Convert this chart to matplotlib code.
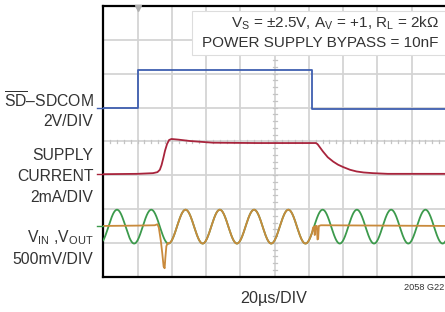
"""Scope capture: shutdown pin, supply current and VIN/VOUT (2058 G22)."""

import matplotlib

matplotlib.use("Agg")
import matplotlib.pyplot as plt
from matplotlib.patches import Rectangle
import numpy as np

FONT = ["Liberation Sans", "DejaVu Sans"]
plt.rcParams["font.family"] = FONT
plt.rcParams["mathtext.fontset"] = "custom"
plt.rcParams["mathtext.rm"] = FONT[0]
plt.rcParams["mathtext.it"] = FONT[0]

TEXT = "#333333"

# traces, all in screen divisions (x: 0..10, y: 0..8)
SD_T = [0, 1.0, 1.0, 6.08, 6.08, 10]
SD_V = [4.98, 4.98, 6.12, 6.12, 4.96, 4.96]

SUP_T = [0, 1.0, 1.45, 1.58, 1.65, 1.70, 1.75, 1.80, 1.86, 1.92, 1.99, 2.2, 2.53,
         3.2, 4.5, 6.2, 6.25, 6.41, 6.55, 6.71, 6.85, 7.0, 7.2, 7.39, 7.6, 7.87, 8.3, 10]
SUP_V = [3.03, 3.04, 3.06, 3.09, 3.16, 3.30, 3.50, 3.72, 3.92, 4.04, 4.07, 4.05, 4.01,
         3.96, 3.95, 3.95, 3.92, 3.70, 3.53, 3.40, 3.31, 3.24, 3.16, 3.11, 3.08, 3.06, 3.04, 3.04]

# input sine: 1 cycle/div, 0.5 div amplitude
VIN_CENTER = 1.48
VIN_AMP = 0.50
VIN_PERIOD = 1.0
VIN_PEAK = 0.40

# output: idle level, turn-on glitch, follows input, turn-off glitch
VOUT_PRE_T = [0, 1.0, 1.50, 1.58, 1.62, 1.68, 1.72, 1.76, 1.79, 1.81, 1.84, 1.88]
VOUT_PRE_V = [1.50, 1.51, 1.52, 1.55, 1.45, 1.05, 0.70, 0.30, 0.25, 0.55, 0.90, 1.00]
VOUT_ON = (1.90, 6.10)
VOUT_POST_T = [6.12, 6.15, 6.17, 6.19, 6.23, 6.25, 6.27, 6.29, 6.35, 10]
VOUT_POST_V = [1.45, 1.48, 1.23, 1.50, 1.50, 1.10, 1.12, 1.50, 1.52, 1.50]

LEFT_LABELS = [
    (r"$\overline{\mathrm{SD}}$–SDCOM", 100.5),
    ("2V/DIV", 121.7),
    ("SUPPLY", 155),
    ("CURRENT", 176.5),
    ("2mA/DIV", 198),
    (r"V$_{\mathrm{IN}}$ ,V$_{\mathrm{OUT}}$", 238),
    ("500mV/DIV", 259.5),
]


def vin(t):
    return VIN_CENTER + VIN_AMP * np.cos(2 * np.pi * (t - VIN_PEAK) / VIN_PERIOD)


W, H = 445, 312
fig = plt.figure(figsize=(W / 100, H / 100), dpi=100)
ax = fig.add_axes([103.3 / W, 1 - 276.7 / H, 342.7 / W, 270.7 / H])
ax.set_xlim(0, 10)
ax.set_ylim(0, 8)

grid = "#d4d4d4"
for gx in range(1, 10):
    ax.axvline(gx, color=grid, lw=1.3, zorder=1)
for gy in range(1, 8):
    ax.axhline(gy, color=grid, lw=1.3, zorder=1)
minor = np.arange(0.2, 10, 0.2)
ax.plot(np.repeat(minor, 3), np.tile([3.96, 4.04, np.nan], len(minor)), color="#c4c4c4", lw=0.9, zorder=1)
minor_y = np.arange(0.2, 8, 0.2)
ax.plot(np.tile([4.94, 5.06, np.nan], len(minor_y)), np.repeat(minor_y, 3), color="#c4c4c4", lw=0.9, zorder=1)

for s in ["left", "bottom", "top"]:
    ax.spines[s].set_color("black")
    ax.spines[s].set_linewidth(1.6)
ax.spines["right"].set_visible(False)
ax.set_xticks([])
ax.set_yticks([])

blue, red, green, orange = "#3f5fb0", "#a8243c", "#3c9a4c", "#c98a3c"
t = np.linspace(0, 10, 2001)
ax.plot(t, vin(t), color=green, lw=1.3, zorder=3)
ts = t[(t >= VOUT_ON[0]) & (t <= VOUT_ON[1])]
vout_t = np.concatenate([VOUT_PRE_T, ts, VOUT_POST_T])
vout_v = np.concatenate([VOUT_PRE_V, vin(ts), VOUT_POST_V])
ax.plot(vout_t, vout_v, color=orange, lw=1.3, zorder=4)
ax.plot(SUP_T, SUP_V, color=red, lw=1.3, zorder=4)
ax.plot(SD_T, SD_V, color=blue, lw=1.3, zorder=4)

# channel ground markers on the left edge
for lvl, c in [(SD_V[0], blue), (SUP_V[0], red), (1.5, green)]:
    ax.plot([-0.18, 0], [lvl, lvl], color=c, lw=1.0, clip_on=False, zorder=5)
# trigger marker
ax.plot([1.0], [7.94], marker="v", ms=4, color="#b0b0b0", clip_on=False, zorder=5)

ax.add_patch(Rectangle((2.58, 6.56), 7.6, 1.28, facecolor="white",
                       edgecolor="#dddddd", lw=0.8, zorder=6, clip_on=True))
ax.text(9.79, 7.5, r"V$_{\mathrm{S}}$ = ±2.5V, A$_{\mathrm{V}}$ = +1, R$_{\mathrm{L}}$ = 2kΩ",
        ha="right", va="center", fontsize=11, color=TEXT, zorder=7)
ax.text(9.79, 6.92, "POWER SUPPLY BYPASS = 10nF", ha="right", va="center",
        fontsize=11, color=TEXT, zorder=7)

for label, py in LEFT_LABELS:
    fig.text(93.5 / W, 1 - py / H, label, ha="right", va="center", fontsize=11.3, color=TEXT)

fig.text(274 / W, 1 - 298 / H, "20µs/DIV", ha="center", va="center", fontsize=11.6, color=TEXT)
fig.text(404 / W, 1 - 288 / H, "2058 G22", ha="left", va="center", fontsize=6.6, color=TEXT)

fig.savefig("out.png", dpi=100)
